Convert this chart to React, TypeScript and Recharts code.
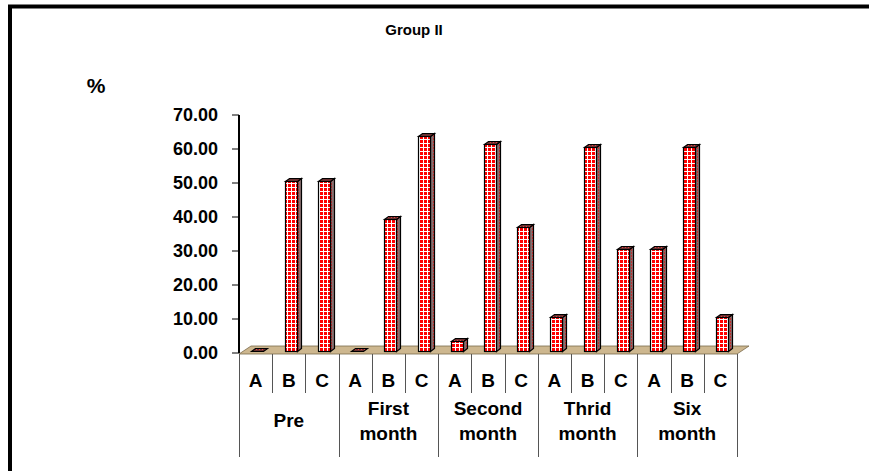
import React from 'react';
import { BarChart, Bar, XAxis, YAxis } from 'recharts';

const SUBGROUPS = ['A', 'B', 'C'];
const PERIODS = ['Pre', 'First month', 'Second month', 'Thrid month', 'Six month'];
const PRE = [0, 50, 50];
const FIRST = [0, 38.9, 63.3];
const SECOND = [3.0, 61.0, 36.5];
const THIRD = [10, 60, 30];
const SIX = [30, 60, 10];
const Y_TICKS = [0, 10, 20, 30, 40, 50, 60, 70];

const SERIES = [PRE, FIRST, SECOND, THIRD, SIX];

const data = PERIODS.flatMap((period, p) =>
  SUBGROUPS.map((sub, s) => ({
    key: `${period}-${sub}`,
    period,
    sub,
    value: SERIES[p][s],
  }))
);

// layout
const W = 869;
const H = 471;
const PLOT_L = 239;
const PLOT_R = 737;
const PLOT_T = 115;
const PLOT_B = 353;
const Y_W = 80;
const X_H = 110;
const HALF_BAND = (PLOT_R - PLOT_L) / data.length / 2;
const FONT = 'Liberation Sans, Arial, sans-serif';

// 3d offsets
const DX = 4;
const DY = 3;

const Bar3D = (props: any) => {
  const { x, y, width, height } = props;
  const bx = Math.round(x + 1.5) + 0.5;
  const by = Math.round(y - 2) + 0.5;
  const h = Math.max(0, Math.round(height));
  const side = `${bx + width},${by} ${bx + width + DX},${by - DY} ${bx + width + DX},${by + h - DY} ${bx + width},${by + h}`;
  const top = `${bx},${by} ${bx + DX},${by - DY} ${bx + width + DX},${by - DY} ${bx + width},${by}`;
  return (
    <g>
      {h > 0 && (
        <>
          <polygon points={side} fill="url(#sidePat)" stroke="#000" strokeWidth={1.2} />
          <rect x={bx} y={by} width={width} height={h} fill="url(#frontPat)" stroke="#000" strokeWidth={1.2} />
        </>
      )}
      <polygon points={top} fill="url(#topPat)" stroke="#000" strokeWidth={1.2} />
    </g>
  );
};

const XTick = (props: any) => {
  const { x, y, payload } = props;
  const i = payload.index;
  const d = data[i];
  const left = Math.round(x - HALF_BAND) + 0.5;
  const right = Math.round(x + HALF_BAND) + 0.5;
  const isStart = i % 3 === 0;
  const isMid = i % 3 === 1;
  const isLast = i === data.length - 1;
  const words = d.period.split(' ');
  return (
    <g>
      <line x1={left} y1={y + 1} x2={left} y2={isStart ? y + 104 : y + 40} stroke="#555" strokeWidth={1} />
      {isLast && <line x1={right} y1={y + 1} x2={right} y2={y + 104} stroke="#555" strokeWidth={1} />}
      <text x={x} y={y + 34} textAnchor="middle" fontFamily={FONT} fontWeight="bold" fontSize={19} fill="#000">
        {d.sub}
      </text>
      {isMid &&
        (words.length === 1 ? (
          <text x={x} y={y + 74} textAnchor="middle" fontFamily={FONT} fontWeight="bold" fontSize={19} fill="#000">
            {words[0]}
          </text>
        ) : (
          <text x={x} textAnchor="middle" fontFamily={FONT} fontWeight="bold" fontSize={19} fill="#000">
            <tspan x={x} y={y + 62}>{words[0]}</tspan>
            <tspan x={x} y={y + 87}>{words[1]}</tspan>
          </text>
        ))}
    </g>
  );
};

export default function App() {
  return (
    <div style={{ position: 'absolute', left: 0, top: 0, width: W, height: H, background: '#fff', overflow: 'hidden' }}>
      <svg width={W} height={H} style={{ position: 'absolute', left: 0, top: 0 }}>
        <defs>
          <pattern id="frontPat" patternUnits="userSpaceOnUse" width={4} height={4}>
            <rect width={4} height={4} fill="#fff" />
            <rect x={0} y={0} width={3} height={3} fill="#f00" />
          </pattern>
          <pattern id="sidePat" patternUnits="userSpaceOnUse" width={3} height={3}>
            <rect width={3} height={3} fill="#8a7070" />
            <rect x={1} y={0} width={1} height={2} fill="#c03030" />
          </pattern>
          <pattern id="topPat" patternUnits="userSpaceOnUse" width={3} height={3}>
            <rect width={3} height={3} fill="#6a3030" />
            <rect x={1} y={1} width={1} height={1} fill="#e04040" />
          </pattern>
        </defs>
        <path d={`M10,${H} L10,6.5 L${W},6.5`} fill="none" stroke="#000" strokeWidth={4} />
        <polygon
          points={`${PLOT_L},${PLOT_B + 1} ${PLOT_R},${PLOT_B + 1} ${PLOT_R + 12},${PLOT_B - 7} ${PLOT_L + 12},${PLOT_B - 7}`}
          fill="#cdb78f"
          stroke="#7a6a4a"
          strokeWidth={0.8}
        />
        <text x={414} y={35} textAnchor="middle" fontFamily={FONT} fontWeight="bold" fontSize={15} fill="#000">
          Group II
        </text>
        <text x={96} y={93} textAnchor="middle" fontFamily={FONT} fontWeight="bold" fontSize={21} fill="#000">
          %
        </text>
      </svg>
      <div style={{ position: 'absolute', left: 0, top: 0 }}>
        <BarChart
          width={W}
          height={H}
          data={data}
          barSize={12}
          margin={{ top: PLOT_T, right: W - PLOT_R, bottom: H - PLOT_B - X_H, left: PLOT_L - Y_W }}
        >
          <XAxis
            dataKey="key"
            height={X_H}
            axisLine={false}
            tickLine={false}
            tickSize={0}
            tickMargin={0}
            interval={0}
            tick={<XTick />}
          />
          <YAxis
            width={Y_W}
            domain={[0, 70]}
            ticks={Y_TICKS}
            interval={0}
            tickFormatter={(v: number) => v.toFixed(2)}
            axisLine={{ stroke: '#000', strokeWidth: 2 }}
            tickLine={{ stroke: '#000', strokeWidth: 1 }}
            tickSize={7}
            tickMargin={14}
            tick={{ fontFamily: FONT, fontWeight: 'bold', fontSize: 18, fill: '#000' }}
          />
          <Bar dataKey="value" isAnimationActive={false} shape={<Bar3D />} />
        </BarChart>
      </div>
    </div>
  );
}
